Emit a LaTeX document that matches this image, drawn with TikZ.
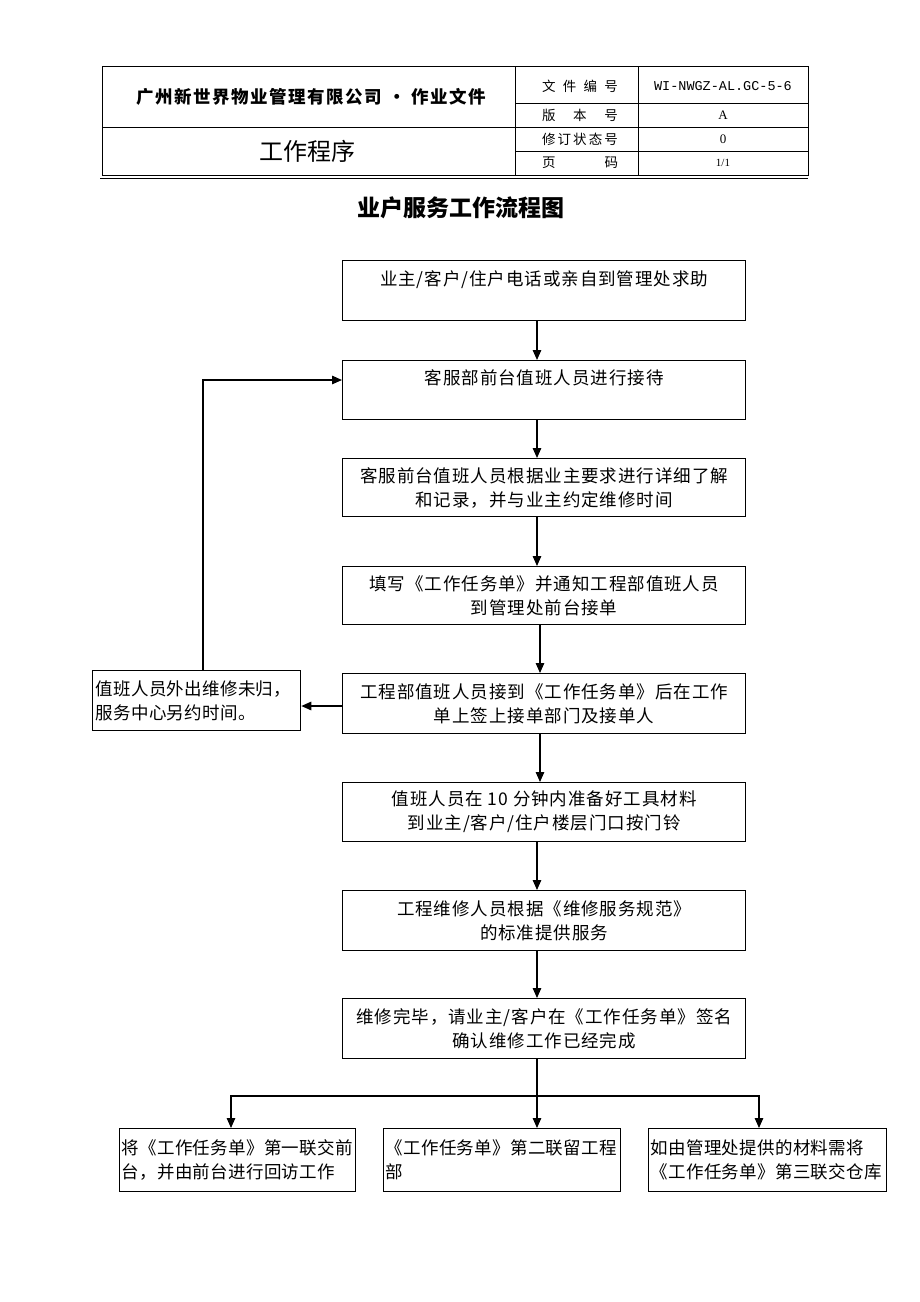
\documentclass[tikz,border=0pt]{standalone}
\usepackage{fontspec}
\setmainfont{Noto Sans CJK SC}
\newfontfamily\cjkA[LetterSpace=5.4]{Noto Sans CJK SC}
\newfontfamily\cjkB[LetterSpace=1.8]{Noto Sans CJK SC}
\newfontfamily\cjkC[LetterSpace=9]{Noto Sans CJK SC}
\newfontfamily\monof{Liberation Mono}
\newfontfamily\serf{Liberation Serif}
\usetikzlibrary{arrows.meta}
\newcommand{\fsbox}{\cjkA\fontsize{17.5}{24}\selectfont}
\newcommand{\fssml}{\cjkB\fontsize{17.5}{24}\selectfont}
\newcommand{\fshd}{\fontsize{13.5}{16}\selectfont}
\tikzset{
  box/.style={draw, line width=1.3pt, minimum width=403pt, anchor=north west, align=center, font=\fsbox, inner sep=2pt},
  sbox/.style={draw, line width=1.3pt, anchor=north west, align=left, font=\fssml, inner sep=2pt},
  arr/.style={line width=1.3pt, -{Triangle[length=10pt,width=8.5pt]}},
  ln/.style={line width=1pt},
  hd/.style={font=\fshd, inner sep=0pt},
}
\begin{document}
\begin{tikzpicture}[x=1pt,y=-1pt]
\useasboundingbox (0,0) rectangle (920,1302);
\fill[white] (0,0) rectangle (920,1302);
% header table
\draw[ln] (102,66) rectangle (808,175);
\draw[ln] (515,66) -- (515,175);
\draw[ln] (638,66) -- (638,175);
\draw[ln] (102,127) -- (808,127);
\draw[ln] (515,103) -- (808,103);
\draw[ln] (515,151) -- (808,151);
\draw[line width=1.4pt] (100,178.5) -- (808,178.5);
\node[inner sep=0pt, font=\cjkC\fontsize{17.5}{20}\selectfont\bfseries] (co) at (311,97) {广州新世界物业管理有限公司 · 作业文件};
\node[inner sep=0pt, font=\fontsize{24}{28}\selectfont] (wp) at (307,151) {工作程序};
\node[hd] (h1) at (580,86) {\makebox[76pt][s]{文\hfil 件\hfil 编\hfil 号}};
\node[hd] (h2) at (580,115) {\makebox[76pt][s]{版\hfil 本\hfil 号}};
\node[hd] (h3) at (580,139) {\makebox[76pt][s]{修\hfil 订\hfil 状\hfil 态\hfil 号}};
\node[hd] (h4) at (580,163) {\makebox[76pt][s]{页\hfil 码}};
\node[inner sep=0pt, font=\monof\fontsize{13.5}{16}\selectfont] (v1) at (723,86) {WI-NWGZ-AL.GC-5-6};
\node[inner sep=0pt, font=\serf\fontsize{13}{16}\selectfont] (v2) at (723,115) {A};
\node[inner sep=0pt, font=\serf\fontsize{13}{16}\selectfont] (v3) at (723,139) {0};
\node[inner sep=0pt, font=\serf\fontsize{11}{16}\selectfont] (v4) at (723,163) {1/1};
% title
\node[inner sep=0pt, font=\fontsize{23}{26}\selectfont\bfseries] (title) at (461,208) {业户服务工作流程图};
% main boxes
\node[box, minimum height=60pt] (b1) at (342,260) {业主/客户/住户电话或亲自到管理处求助\\[-6pt] \strut};
\node[box, minimum height=59pt] (b2) at (342,360) {客服部前台值班人员进行接待\\[-6pt] \strut};
\node[box, minimum height=58pt] (b3) at (342,458) {客服前台值班人员根据业主要求进行详细了解\\和记录，并与业主约定维修时间};
\node[box, minimum height=58pt] (b4) at (342,566) {填写《工作任务单》并通知工程部值班人员\\到管理处前台接单};
\node[box, minimum height=60pt] (b5) at (342,673) {工程部值班人员接到《工作任务单》后在工作\\单上签上接单部门及接单人};
\node[box, minimum height=59pt] (b6) at (342,782) {值班人员在 10 分钟内准备好工具材料\\到业主/客户/住户楼层门口按门铃};
\node[box, minimum height=60pt] (b7) at (342,890) {工程维修人员根据《维修服务规范》\\的标准提供服务};
\node[box, minimum height=60pt] (b8) at (342,998) {维修完毕，请业主/客户在《工作任务单》签名\\确认维修工作已经完成};
\node[sbox, minimum width=208pt, minimum height=60pt, text width=202pt] (L) at (92,670) {值班人员外出维修未归，\\服务中心另约时间。};
\node[sbox, minimum width=236pt, minimum height=63pt, text width=232pt] (ba) at (119,1128) {将《工作任务单》第一联交前\\台，并由前台进行回访工作};
\node[sbox, minimum width=237pt, minimum height=63pt, text width=233pt] (bb) at (383,1128) {《工作任务单》第二联留工程\\部};
\node[sbox, minimum width=238pt, minimum height=63pt, text width=234pt] (bc) at (648,1128) {如由管理处提供的材料需将\\《工作任务单》第三联交仓库};
% connectors
\coordinate (sp) at (537,0);
\coordinate (sq) at (540,0);
\coordinate (fb) at (203,380);
\coordinate (fy) at (0,706);
\coordinate (br) at (0,1096);
\coordinate (ax) at (231,0);
\coordinate (cx) at (759,0);
\draw[arr] (b1.south -| sp) -- (b2.north -| sp);
\draw[arr] (b2.south -| sp) -- (b3.north -| sp);
\draw[arr] (b3.south -| sp) -- (b4.north -| sp);
\draw[arr] (b4.south -| sq) -- (b5.north -| sq);
\draw[arr] (b5.south -| sq) -- (b6.north -| sq);
\draw[arr] (b6.south -| sp) -- (b7.north -| sp);
\draw[arr] (b7.south -| sp) -- (b8.north -| sp);
\draw[arr] (b8.south -| sp) -- (bb.north -| sp);
\draw[arr] (L.north -| fb) |- (b2.west |- fb);
\draw[arr] (b5.west |- fy) -- (L.east |- fy);
\draw[arr] (sp |- br) -| (ax |- ba.north);
\draw[arr] (sp |- br) -| (cx |- bc.north);
\end{tikzpicture}
\end{document}
